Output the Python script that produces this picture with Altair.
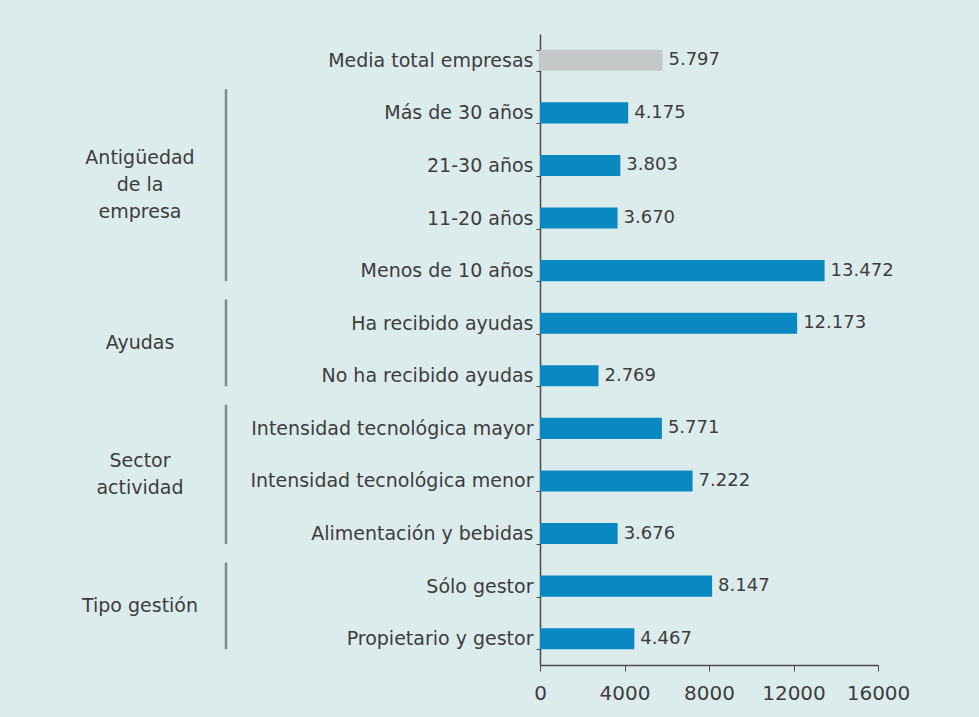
import altair as alt
import pandas as pd

# ---- data ----
categories = [
    "Media total empresas",
    "Más de 30 años",
    "21-30 años",
    "11-20 años",
    "Menos de 10 años",
    "Ha recibido ayudas",
    "No ha recibido ayudas",
    "Intensidad tecnológica mayor",
    "Intensidad tecnológica menor",
    "Alimentación y bebidas",
    "Sólo gestor",
    "Propietario y gestor",
]
values = [5797, 4175, 3803, 3670, 13472, 12173, 2769, 5771, 7222, 3676, 8147, 4467]
kinds = ["media"] + ["grupo"] * 11
x_ticks = [0, 4000, 8000, 12000, 16000]

group_labels = ["Antigüedad\nde la\nempresa", "Ayudas", "Sector\nactividad", "Tipo gestión"]
group_first = ["Más de 30 años", "Ha recibido ayudas", "Intensidad tecnológica mayor", "Sólo gestor"]
group_last = ["Menos de 10 años", "No ha recibido ayudas", "Alimentación y bebidas", "Propietario y gestor"]

# ---- tables ----
bars_df = pd.DataFrame({
    "cat": categories,
    "value": values,
    "kind": kinds,
    "label": [f"{v:,}".replace(",", ".") for v in values],
})

# bracket extent in row units, derived from group membership
EXT_TOP, EXT_BOTTOM = 0.45, 0.2
LINE_STEP = 0.51  # text line spacing in row units
g_start = [categories.index(c) - EXT_TOP for c in group_first]
g_end = [categories.index(c) + EXT_BOTTOM for c in group_last]
groups_df = pd.DataFrame({"start": g_start, "end": g_end})

text_rows = []
for lab, a, b in zip(group_labels, g_start, g_end):
    lines = lab.split("\n")
    mid = (a + b) / 2
    n = len(lines)
    for k, ln in enumerate(lines):
        text_rows.append({"line": ln, "pos": mid + (k - (n - 1) / 2) * LINE_STEP})
text_df = pd.DataFrame(text_rows)

FONT = "DejaVu Sans"
TEXT = "#3c3c3c"
AXIS = "#4a4a4a"

y_band = alt.Scale(paddingInner=0.6, paddingOuter=0.3)
x_scale = alt.Scale(domain=[0, 16000], nice=False)

bars = alt.Chart(bars_df).mark_bar().encode(
    y=alt.Y("cat:N", sort=categories, scale=y_band,
            axis=alt.Axis(title=None, tickBand="extent", tickSize=4, tickColor=AXIS,
                          domainColor=AXIS, domainWidth=1.5, labelFont=FONT,
                          labelFontSize=19, labelColor=TEXT, labelPadding=3,
                          labelLimit=400)),
    x=alt.X("value:Q", scale=x_scale,
            axis=alt.Axis(title=None, values=x_ticks, grid=False, tickSize=6,
                          tickColor=AXIS, domainColor=AXIS, domainWidth=1.5,
                          labelFont=FONT, labelFontSize=20, labelColor=TEXT,
                          labelPadding=12, labelFlush=False, labelOverlap=False,
                          format="d")),
    color=alt.Color("kind:N", scale=alt.Scale(domain=["media", "grupo"],
                                              range=["#c5c8c9", "#0a88c2"]),
                    legend=None),
)

value_labels = alt.Chart(bars_df).mark_text(
    align="left", baseline="middle", dx=6, font=FONT, fontSize=18, color=TEXT
).encode(
    y=alt.Y("cat:N", sort=categories, scale=y_band),
    x=alt.X("value:Q", scale=x_scale),
    text="label:N",
)

row_scale = alt.Scale(domain=[-0.5, len(categories) - 0.5], reverse=True, nice=False, zero=False)

brackets = alt.Chart(groups_df).mark_rule(color="#7d8b8b", strokeWidth=2.5).encode(
    x=alt.value(-314),
    y=alt.Y("start:Q", scale=row_scale, axis=None),
    y2="end:Q",
)

group_text = alt.Chart(text_df).mark_text(
    align="center", baseline="middle", font=FONT, fontSize=19, color=TEXT
).encode(
    x=alt.value(-400),
    y=alt.Y("pos:Q", scale=row_scale, axis=None),
    text="line:N",
)

chart = alt.layer(
    alt.layer(bars, value_labels),
    alt.layer(brackets, group_text),
).resolve_scale(y="independent").properties(
    width=338,
    height=631,
    padding={"left": 540, "top": 34, "right": 101, "bottom": 52},
    autosize=alt.AutoSizeParams(type="none"),
    background="#dcecec",
).configure_view(stroke=None)

chart.save("out.html", embed_options={"renderer": "svg", "actions": False})
